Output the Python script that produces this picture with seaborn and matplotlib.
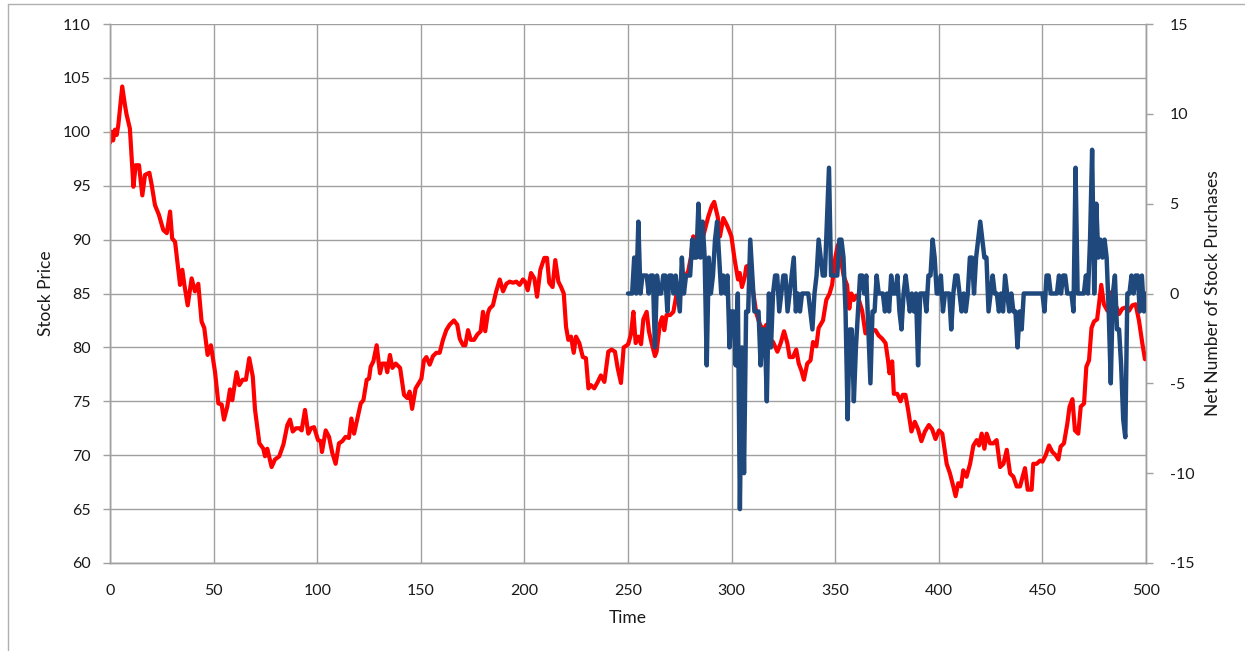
import numpy as np
import pandas as pd
import matplotlib
matplotlib.use("Agg")
import matplotlib.pyplot as plt
from matplotlib.lines import Line2D
import seaborn as sns

# --- data ---
# stock price (left axis), sampled where the line turns
red_t = [0, 0.8, 1.5, 2.4, 3.2, 4.0, 5.9, 7.2, 8.0, 9.6, 11.3, 12.4, 14.0, 15.6, 16.9, 19.0, 20.1,
         21.7, 23.6, 25.7, 27.4, 29.0, 30.0, 31.4, 33.8, 34.9, 35.9, 37.5, 39.4, 41.0, 42.6, 44.2,
         45.5, 47.1, 48.7, 50.7, 52.3, 53.9, 55.0, 56.6, 57.9, 59.0, 61.1, 62.4, 64.0, 65.6, 67.2,
         68.9, 70.0, 72.1, 74.0, 74.8, 75.9, 78.0, 79.6, 81.7, 83.7, 85.6, 86.9, 88.2, 89.8, 91.4,
         92.5, 94.1, 95.7, 97.0, 98.5, 100.4, 101.7, 102.3, 104.1, 105.7, 107.3, 108.9, 110.5,
         112.1, 113.7, 115.3, 116.5, 117.8, 119.4, 121.0, 122.3, 123.9, 125.0, 125.8, 127.1, 128.7,
         130.3, 131.4, 133.0, 133.8, 135.1, 136.3, 137.9, 140.0, 141.9, 143.5, 144.6, 145.8, 147.5,
         149.1, 150.3, 151.5, 152.7, 154.3, 155.9, 157.5, 159.1, 160.7, 162.3, 163.9, 166.0, 167.6,
         168.8, 170.4, 171.5, 172.8, 174.1, 175.7, 177.3, 178.9, 180.0, 181.1, 182.4, 183.2, 184.8,
         186.4, 188.1, 189.7, 191.3, 192.9, 194.5, 196.1, 197.7, 199.3, 200.3, 201.6, 203.2, 204.8,
         206.1, 207.7, 209.6, 210.9, 212.0, 213.6, 214.9, 216.4, 217.7, 219.0, 220.1, 221.2, 222.5,
         223.8, 224.9, 226.5, 228.2, 229.7, 230.9, 232.1, 233.7, 235.4, 236.9, 238.6, 240.5, 242.1,
         243.7, 245.0, 246.6, 247.9, 249.5, 250.1, 251.4, 252.6, 253.7, 255.0, 256.3, 257.4, 259.0,
         260.1, 261.4, 263.0, 263.8, 265.4, 266.5, 267.5, 268.6, 270.3, 271.9, 273.5, 274.6, 276.2,
         277.5, 279.1, 280.4, 281.5, 282.6, 283.9, 285.5, 287.1, 288.7, 290.4, 291.6, 293.3, 294.4,
         296.0, 297.6, 298.5, 299.9, 301.5, 303.1, 303.9, 305.0, 306.3, 307.1, 308.2, 310.3, 311.9,
         313.5, 315.2, 316.8, 318.4, 320.0, 322.1, 323.7, 325.3, 326.9, 328.0, 329.6, 331.2, 332.4,
         333.6, 334.9, 336.5, 338.1, 339.3, 340.9, 342.0, 344.1, 345.7, 347.3, 348.5, 350.1, 351.3,
         352.5, 354.1, 355.7, 356.8, 357.8, 359.0, 360.1, 361.3, 363.0, 364.6, 366.2, 367.8, 369.4,
         371.0, 372.7, 374.3, 375.5, 376.2, 377.5, 378.3, 379.9, 381.5, 382.6, 383.9, 385.2, 386.8,
         388.4, 390.0, 391.6, 393.3, 395.2, 396.8, 398.4, 400.1, 401.7, 403.8, 405.4, 407.0, 408.1,
         409.4, 410.7, 411.8, 413.4, 415.1, 416.7, 418.3, 419.4, 420.7, 422.0, 423.1, 424.7, 426.3,
         427.9, 429.6, 431.2, 432.8, 434.4, 436.0, 437.6, 439.2, 440.3, 441.6, 442.9, 444.8, 445.6,
         447.2, 448.9, 450.0, 451.6, 453.2, 454.8, 456.4, 457.7, 458.8, 460.4, 462.0, 463.1, 464.5,
         465.7, 467.3, 468.5, 470.1, 471.2, 472.5, 473.7, 474.9, 476.4, 477.3, 478.4, 479.7, 481.4,
         483.0, 484.6, 487.0, 488.6, 490.2, 491.8, 493.4, 495.0, 496.6, 498.2, 499.5]
red_p = [99.0, 100.0, 99.2, 100.2, 99.7, 100.6, 104.2, 102.5, 101.6, 100.3, 94.9, 96.9, 96.9, 94.1,
         96.0, 96.2, 95.1, 93.2, 92.3, 90.9, 90.6, 92.6, 90.1, 89.8, 85.8, 87.2, 85.8, 83.9, 86.4,
         85.2, 85.9, 82.4, 81.8, 79.3, 80.2, 77.7, 74.8, 74.7, 73.3, 74.5, 76.1, 75.1, 77.7, 76.5,
         77.0, 77.0, 79.0, 77.3, 74.2, 71.1, 70.6, 69.9, 70.6, 68.9, 69.6, 69.9, 71.0, 72.8, 73.3,
         72.2, 72.5, 72.5, 72.3, 74.2, 72.0, 72.5, 72.6, 71.4, 71.3, 70.3, 72.3, 71.7, 70.2, 69.2,
         71.1, 71.3, 71.7, 71.6, 73.4, 72.0, 73.4, 74.8, 75.1, 77.0, 77.1, 78.2, 78.7, 80.2, 77.6,
         78.5, 78.5, 77.7, 79.3, 78.1, 78.5, 78.1, 75.6, 75.3, 75.9, 74.3, 76.2, 76.7, 77.1, 78.8,
         79.1, 78.4, 79.2, 79.5, 79.5, 80.7, 81.6, 82.1, 82.5, 82.1, 80.8, 80.2, 80.2, 81.6, 80.7,
         80.7, 81.2, 81.5, 83.3, 81.5, 83.2, 83.6, 83.9, 85.2, 86.3, 85.2, 85.9, 86.1, 86.0, 86.1,
         85.8, 86.3, 86.1, 85.3, 86.9, 86.4, 84.7, 87.2, 88.3, 88.3, 86.0, 85.6, 88.1, 86.1, 85.6,
         85.0, 81.9, 80.7, 81.0, 79.5, 81.0, 80.4, 79.1, 79.0, 76.2, 76.5, 76.2, 76.8, 77.4, 76.8,
         79.6, 79.8, 79.6, 78.1, 76.7, 80.0, 80.2, 80.3, 81.2, 83.3, 80.4, 81.0, 80.3, 82.6, 83.3,
         81.5, 80.4, 79.2, 79.6, 82.2, 82.8, 81.6, 83.0, 83.0, 83.3, 85.0, 85.3, 85.0, 86.5, 87.1,
         88.4, 90.3, 89.5, 88.4, 89.8, 90.9, 92.1, 93.1, 93.5, 92.1, 90.3, 92.0, 91.4, 91.0, 90.3,
         88.1, 86.3, 86.9, 85.6, 86.5, 87.5, 87.6, 85.3, 83.2, 82.2, 81.6, 82.1, 80.8, 80.5, 79.6,
         80.4, 81.5, 80.4, 79.1, 79.1, 79.8, 78.5, 77.9, 77.0, 78.5, 78.8, 80.5, 80.1, 81.8, 82.5,
         84.4, 85.0, 85.8, 88.4, 89.5, 88.4, 86.6, 85.8, 83.6, 85.0, 84.4, 84.8, 84.5, 83.4, 81.3,
         82.2, 81.6, 81.6, 81.1, 80.8, 80.4, 78.8, 77.6, 78.7, 75.7, 75.7, 75.0, 75.6, 75.6, 74.2,
         72.2, 73.1, 72.4, 71.3, 72.2, 72.8, 72.4, 71.5, 72.3, 72.0, 69.2, 68.3, 67.1, 66.2, 67.4,
         67.1, 68.6, 68.0, 69.2, 70.9, 71.4, 70.9, 72.0, 70.6, 72.0, 71.1, 71.1, 71.4, 68.9, 69.2,
         70.5, 68.3, 68.0, 67.1, 67.1, 67.9, 68.8, 66.8, 66.8, 69.2, 69.2, 69.5, 69.4, 70.0, 70.9,
         70.3, 70.0, 69.6, 70.8, 71.1, 72.9, 74.5, 75.2, 72.3, 72.0, 74.5, 74.8, 78.2, 78.8, 81.8,
         82.4, 82.6, 84.0, 85.8, 84.0, 83.4, 85.1, 84.3, 83.1, 83.6, 83.7, 83.4, 83.9, 84.0, 82.5,
         80.4, 78.9]

# net number of stock purchases (right axis), starts at t=250
blue_t = list(range(250, 501))
blue_v = [0, 0, 0, 2, 0, 4, 0, 1, 1, 1, 0, 1, 1, -3, 1, 0, 0, 1, 1, -1,   # 250-269
          1, 1, 0, 1, 0, -1, 2, 0, 1, 1, 1, 3, 2, 2, 5, 2, 4, 2, -4, 2,    # 270-289
          0, 1, 3, 4, 2, 0, 1, 0, 1, -3, -1, -1, -4, 0, -12, -3, -10, -1, -1, 3,  # 290-309
          1, -1, -1, -1, -4, -2, -2, -6, 0, -3, 0, 1, 1, -1, 0, 1, 1, -1, 0, 1,   # 310-329
          2, -1, 0, -1, 0, 0, 0, 0, -1, -2, 0, 1, 3, 2, 1, 1, 4, 7, 1, 1,     # 330-349
          1, 1, 3, 3, 2, -1, -7, -2, -2, -6, -3, -1, 1, 1, 0, 1, -2, -5, -1, -1,  # 350-369
          1, 0, 0, 0, -1, 0, -1, 1, 0, 0, 1, -1, -2, 0, 1, 0, -1, 0, -1, 0,   # 370-389
          -4, 0, 0, 0, -1, 1, 1, 3, 2, 0, 0, 1, -1, 0, 0, 0, -2, 0, 1, 1,     # 390-409
          0, -1, 0, -1, 0, 2, 2, 0, 2, 3, 4, 3, 2, 2, -1, 0, 1, 0, 0, -1,     # 410-429
          0, -1, 1, 0, -1, 0, -1, -1, -3, -1, -2, 0, 0, 0, 0, 0, 0, 0, 0, 0,  # 430-449
          0, -1, 1, 1, 0, 0, 0, 0, 1, 0, 1, 1, 0, 0, 0, -1, 7, 0, 0, 0,       # 450-469
          0, 1, 0, 3, 8, 0, 5, 2, 3, 2, 3, 2, -1, -5, 0, 1, -2, -2, -4, -7,   # 470-489
          -8, 0, 0, 1, 0, 1, 1, -1, 1, -1, 0]                                 # 490-500

price_df = pd.DataFrame({"Time": red_t, "Stock Price": red_p})
buys_df = pd.DataFrame({"Time": blue_t, "Net": blue_v})

sns.set_style("white")
plt.rcParams["font.family"] = ["Lato", "DejaVu Sans"]
plt.rcParams["axes.unicode_minus"] = False

fig = plt.figure(figsize=(12.45, 6.51), dpi=100)
ax = fig.add_axes([110 / 1245, 1 - 563 / 651, (1146 - 110) / 1245, (563 - 24) / 651])
ax2 = ax.twinx()

grid_c = "#A0A0A0"
txt_c = "#1a1a1a"

sns.lineplot(data=price_df, x="Time", y="Stock Price", ax=ax, color="#FF0000",
             linewidth=3.0, estimator=None, sort=False, zorder=3)
sns.lineplot(data=buys_df, x="Time", y="Net", ax=ax2, color="#1F497D",
             linewidth=3.2, estimator=None, sort=False, zorder=3)

ax.set_xlim(0, 500)
ax.set_ylim(60, 110)
ax.set_xticks(np.arange(0, 501, 50))
ax.set_yticks(np.arange(60, 111, 5))
ax2.set_ylim(-15, 15)
ax2.set_yticks(np.arange(-15, 16, 5))

ax.grid(True, color=grid_c, linewidth=1.0)
ax.set_axisbelow(True)
for a in (ax, ax2):
    for s in a.spines.values():
        s.set_color(grid_c)
        s.set_linewidth(1.0)
    a.spines["top"].set_visible(False)
ax.tick_params(axis="x", direction="out", length=5, width=1, color=grid_c,
               labelsize=11.5, labelcolor=txt_c, pad=10)
ax.tick_params(axis="y", direction="out", length=5, width=1, color=grid_c,
               labelsize=11.5, labelcolor=txt_c, pad=9)
ax2.tick_params(axis="y", direction="out", length=5, width=1, color=grid_c,
                labelsize=11.5, labelcolor=txt_c, pad=12)
ax.set_xlabel("Time", fontsize=12.5, color=txt_c, labelpad=9)
ax.set_ylabel("Stock Price", fontsize=12.5, color=txt_c, labelpad=6)
ax2.set_ylabel("Net Number of Stock Purchases", fontsize=12.5, color=txt_c, labelpad=8)

# chart frame (partly visible at left and top)
fig.add_artist(Line2D([8 / 1245, 8 / 1245], [0, 1 - 4 / 651], color="#B0B0B0", lw=1))
fig.add_artist(Line2D([8 / 1245, 1], [1 - 4 / 651, 1 - 4 / 651], color="#B0B0B0", lw=1))

fig.savefig("out.png", dpi=100)
